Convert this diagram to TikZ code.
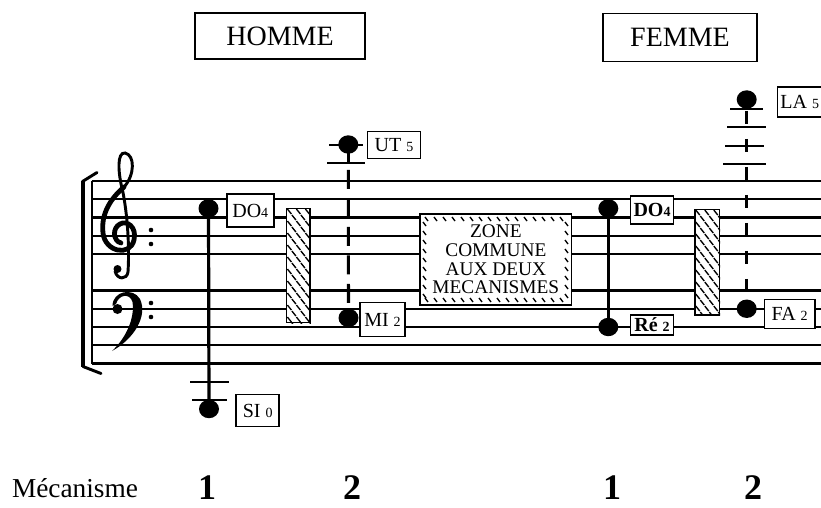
\documentclass[tikz,border=0pt]{standalone}
\usepackage{fontspec}
\setmainfont{Liberation Serif}
\usetikzlibrary{shapes.geometric,calc}
\begin{document}
\begin{tikzpicture}[x=0.75pt,y=-0.75pt,
  staff/.style={line width=1.55pt},
  lbl/.style={draw,line width=1.1pt,fill=white,inner sep=0pt,font=\fontsize{15}{15}\selectfont},
  note/.style={ellipse,fill=black,inner sep=0pt,minimum width=15pt,minimum height=13.8pt},
  stemline/.style={line width=2.4pt},
  dashA/.style={line width=2.3pt,dash pattern=on 14.25pt off 7.1pt},
  dashB/.style={line width=2.3pt,dash pattern=on 9.75pt off 11.25pt},
  ledger/.style={line width=1.5pt},
  titlebox/.style={draw,line width=1.2pt,inner sep=0pt,font=\fontsize{21}{21}\selectfont},
  hatchrect/.style={draw,line width=1.1pt,fill=white,inner sep=0pt},
  hatch/.style={line width=1pt},
  bottomnum/.style={anchor=base,inner sep=0pt,font=\fontsize{27}{27}\selectfont\bfseries},
]
\useasboundingbox (0,0) rectangle (821,507);
\clip (0,0) rectangle (821,507);
% staff lines
\foreach \i in {0,...,4}{
  \draw[staff] (91.7,181+18.25*\i) -- (821,181+18.25*\i);
  \draw[staff] (91.7,290.5+18.25*\i) -- (821,290.5+18.25*\i);
}
% bracket and barline
\draw[line width=3pt] (83,181) -- (83,367);
\draw[line width=2.2pt,line cap=round] (82.5,181.5) -- (97,172.5);
\draw[line width=2.2pt,line cap=round] (83,366.5) -- (101,373.5);
\draw[line width=1.4pt] (91.7,181) -- (91.7,363.5);
% treble clef
\draw[line width=2.2pt,line cap=round] (128,272) .. controls (130,240) and (126,205) .. (122,188)
  .. controls (118,172) and (117,152) .. (125,153)
  .. controls (135,155) and (135,175) .. (124,187);
\draw[line width=3.6pt,line cap=round] (124,187) .. controls (109,200) and (101,215) .. (103,233)
  .. controls (105,252) and (130,257) .. (134,240)
  .. controls (137,227) and (127,220) .. (120,224)
  .. controls (112,228) and (113,241) .. (121,243);
\draw[line width=2.2pt] (128,272) .. controls (127,280) and (117,280) .. (115,271);
\fill (117.5,269) circle[radius=4];
\fill (151,230) circle[radius=2.3];
\fill (151,244) circle[radius=2.3];
% bass clef
\fill (112.5,306) .. controls (112.5,291) and (133,287) .. (140,299)
  .. controls (148,316) and (134,339) .. (112,351)
  .. controls (126,338) and (135,318) .. (132.5,302)
  .. controls (130,293) and (119,294) .. (116,304) -- cycle;
\fill (117.5,309) circle[radius=5];
\fill (151,303) circle[radius=2.3];
\fill (151,317) circle[radius=2.3];
% hatched rectangles
\node[hatchrect,minimum width=17.5pt,minimum height=85.8pt] (hh) at (298.35,265.5) {};
\node[hatchrect,minimum width=18.2pt,minimum height=79.3pt] (hf) at (707.15,262.15) {};
\foreach \r in {hh,hf}{
  \begin{scope}
    \clip (\r.south west) rectangle (\r.north east);
    \foreach \j in {0,...,21}{
      \pgfmathsetmacro{\off}{mod(\j,2)*4.5}
      \foreach \k in {0,1,2}{
        \draw[hatch] ($(\r.north west)+(3.5+\off+9*\k,4+6*\j)$) ++(-2,-2.5) -- ++(4,5);
      }
    }
  \end{scope}
}
% zone commune
\node[hatchrect,minimum width=113.8pt,minimum height=68.25pt] (zone) at (495.85,259.5) {};
\foreach \t in {0,...,15}{
  \draw[hatch] (425+9*\t,217) -- ++(3,4);
  \draw[hatch] (425+9*\t,298) -- ++(3,4);
}
\foreach \t in {0,...,8}{
  \draw[hatch] (423,222+9*\t) -- ++(3,4);
  \draw[hatch] (565,222+9*\t) -- ++(3,4);
}
\node[align=center,font=\fontsize{14.5}{14}\selectfont] (zonetxt) at (495.85,259.5) {ZONE\\COMMUNE\\AUX DEUX\\MECANISMES};
% label boxes
\newcommand{\sm}[1]{{\fontsize{10.5}{10.5}\selectfont #1}}
\node[lbl,minimum width=35.25pt,minimum height=24.75pt] (ldoh) at (250.3,210.7) {DO\sm{4}};
\node[lbl,minimum width=32.25pt,minimum height=24pt] (lsi) at (257.7,410.5) {SI \sm{0}};
\node[lbl,minimum width=39.75pt,minimum height=20.25pt] (lut) at (394,145) {UT \sm{5}};
\node[lbl,minimum width=33.75pt,minimum height=25.5pt] (lmi) at (382.5,319.7) {MI \sm{2}};
\node[lbl,minimum width=32pt,minimum height=21pt,font=\fontsize{15}{15}\selectfont\bfseries] (ldof) at (652,209.8) {DO\sm{4}};
\node[lbl,minimum width=32pt,minimum height=15pt,font=\fontsize{15}{15}\selectfont\bfseries] (lre) at (652,325) {Ré \sm{2}};
\node[lbl,minimum width=38pt,minimum height=21.75pt] (lfa) at (789.7,313.8) {FA \sm{2}};
\node[lbl,minimum height=22.5pt,anchor=west,inner xsep=2pt] (lla) at (777,102) {LA \sm{5}\hspace{6pt}};
% ledger lines
\draw[ledger] (190,381.75) -- (229,381.75);
\draw[ledger] (192,400) -- (227,400);
\draw[ledger] (327,162.75) -- (365,162.75);
\draw[ledger] (329,144.5) -- (363,144.5);
\draw[ledger] (730,109) -- (763,109);
\draw[ledger] (727,127.25) -- (766,127.25);
\draw[ledger] (725,145.5) -- (764,145.5);
\draw[ledger] (723,163.75) -- (766,163.75);
% notes
\node[note] (ndoh) at (208.5,208.4) {};
\node[note] (nsi) at (209,409) {};
\node[note] (nut) at (348.3,144.5) {};
\node[note] (nmi) at (348.5,317.9) {};
\node[note] (ndof) at (608.3,208.4) {};
\node[note] (nre) at (608.3,327) {};
\node[note] (nla) at (746.7,99.5) {};
\node[note] (nfa) at (746.7,308.75) {};
% stems
\draw[stemline] (ndoh.center) -- (nsi.center);
\draw[stemline] (ndof.center) -- (nre.center);
\draw[line width=2.3pt] (nut.center) -- (348.3,162.75);
\draw[dashA,shorten <=19.1pt] (nut.center) -- (nmi.center);
\draw[dashB,shorten <=8.6pt] (nla.center) -- (nfa.center);
% titles
\node[titlebox,minimum width=127.5pt,minimum height=34.5pt] (homme) at (280,36) {HOMME};
\node[titlebox,minimum width=115.5pt,minimum height=36pt] (femme) at (680,37.5) {FEMME};
% bottom
\node[anchor=base,inner sep=0pt,font=\fontsize{20.5}{20.5}\selectfont] (mec) at (75,497) {Mécanisme};
\node[bottomnum] (m1) at (207,499) {1};
\node[bottomnum] (m2) at (352,499) {2};
\node[bottomnum] (m3) at (612,499) {1};
\node[bottomnum] (m4) at (753,499) {2};
\end{tikzpicture}
\end{document}
